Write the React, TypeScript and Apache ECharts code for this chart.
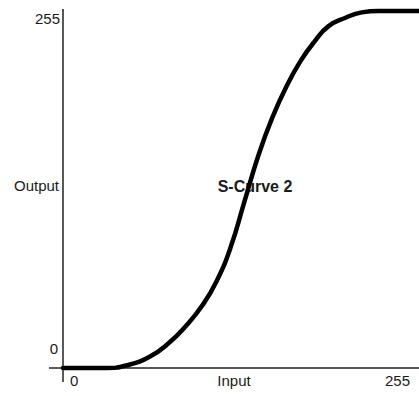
import React, { useEffect, useRef } from "react";
import * as echarts from "echarts";

const inputs = [0, 31, 46, 62, 76, 88, 100, 110, 120, 130, 140, 150, 160, 170, 180, 190, 202, 214, 226, 240, 255];
const outputs = [0, 0, 2, 8, 18, 30, 45, 62, 86, 119, 152, 179, 201, 219, 233, 244, 250, 254, 255, 255, 255];
const seriesName = "S-Curve 2";
const xTickLabels = ["0", "255"];
const yTickLabels = ["0", "255"];
const xAxisName = "Input";
const yAxisName = "Output";

const FONT = '15px "Liberation Sans", Arial, sans-serif';
const TEXT_COLOR = "#1a1a1a";

export default function App() {
  const ref = useRef<HTMLDivElement>(null);
  useEffect(() => {
    if (!ref.current) return;
    const chart = echarts.init(ref.current, null, { renderer: "svg" });
    const gl = 63, gt = 11, gw = 357, gh = 357;
    const gb = gt + gh;
    const txt = (text: string, x: number, y: number, align: string, font = FONT) => ({
      type: "text",
      x,
      y,
      silent: true,
      style: { text, x: 0, y: 0, align, verticalAlign: "middle", font, fill: TEXT_COLOR },
    });
    chart.setOption({
      animation: false,
      backgroundColor: "#ffffff",
      grid: { left: gl, top: gt, width: gw, height: gh, containLabel: false },
      xAxis: {
        type: "value",
        min: 0,
        max: 255,
        axisLine: { show: true, onZero: false, lineStyle: { color: "#222", width: 1.5 } },
        axisTick: { show: false },
        axisLabel: { show: false },
        splitLine: { show: false },
      },
      yAxis: {
        type: "value",
        min: 0,
        max: 255,
        axisLine: { show: true, onZero: false, lineStyle: { color: "#222", width: 1.5 } },
        axisTick: { show: false },
        axisLabel: { show: false },
        splitLine: { show: false },
      },
      series: [
        {
          name: seriesName,
          type: "line",
          data: inputs.map((x, i) => [x, outputs[i]]),
          smooth: 0.5,
          showSymbol: false,
          clip: false,
          lineStyle: { color: "#000", width: 4.5, cap: "round", join: "round" },
        },
      ],
      graphic: [
        { type: "line", silent: true, shape: { x1: 49, y1: gb, x2: gl, y2: gb }, style: { stroke: "#222", lineWidth: 1.5 } },
        { type: "line", silent: true, shape: { x1: gl, y1: gb, x2: gl, y2: 382 }, style: { stroke: "#222", lineWidth: 1.5 } },
        { type: "line", silent: true, shape: { x1: gl, y1: 9, x2: gl, y2: gt }, style: { stroke: "#222", lineWidth: 1.5 } },
        txt(yTickLabels[1], 60, 18, "right"),
        txt(yAxisName, 59, 185, "right"),
        txt(yTickLabels[0], 58, 348, "right"),
        txt(xTickLabels[0], 70, 380, "left"),
        txt(xAxisName, 234, 380, "center"),
        txt(xTickLabels[1], 410, 380, "right"),
        txt(seriesName, 255, 186, "center", 'bold 16px "Liberation Sans", Arial, sans-serif'),
      ],
    });
    return () => chart.dispose();
  }, []);
  return (
    <div
      ref={ref}
      style={{ position: "absolute", left: 0, top: 0, width: 419, height: 396, background: "#fff" }}
    />
  );
}
